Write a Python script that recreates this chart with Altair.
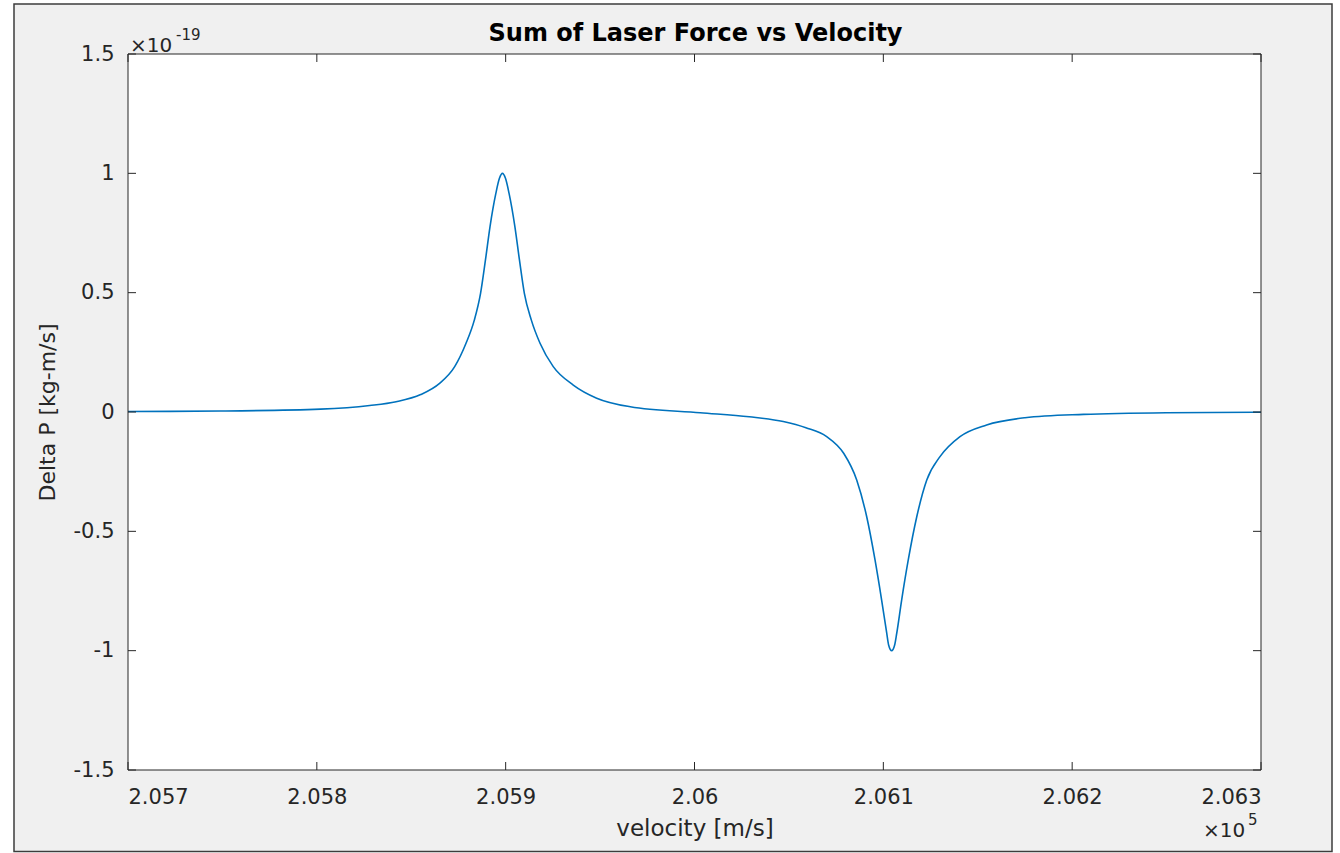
import altair as alt
import pandas as pd

# ---- data (velocity in m/s, Delta P in units of 1e-19 kg m/s)
velocity = [205700, 205749, 205802, 205828, 205842, 205855, 205865, 205873,
            205879, 205883.4, 205886.7, 205889.3, 205891.7, 205894.8, 205896.7, 205898.3,
            205899.9, 205901.8, 205904.9, 205907.3, 205909.9, 205913.6, 205918.2,
            205925.2, 205935.8, 205948.2, 205966, 206003, 206029, 206047, 206059,
            206070, 206079, 206085.9, 206091.2, 206095.6, 206099.1, 206101.8, 206102.8,
            206104.4, 206106.0, 206107.1, 206109.7, 206113.2, 206117.7, 206123,
            206130, 206140.6, 206154.7, 206175, 206206, 206250, 206300]
delta_p_e19 = [0.002, 0.004, 0.012, 0.027, 0.043, 0.073, 0.12, 0.19,
               0.288, 0.385, 0.497, 0.637, 0.776, 0.916, 0.979, 1.0,
               0.979, 0.916, 0.776, 0.637, 0.497, 0.385, 0.288,
               0.19, 0.113, 0.058, 0.022, -0.003, -0.02, -0.04, -0.066,
               -0.103, -0.173, -0.285, -0.439, -0.62, -0.788, -0.927, -0.976,
               -1.0, -0.976, -0.927, -0.788, -0.62, -0.439, -0.285,
               -0.187, -0.103, -0.054, -0.024, -0.01, -0.003, -0.001]

x_ticks = [205700, 205800, 205900, 206000, 206100, 206200, 206300]
y_ticks = [-1.5, -1, -0.5, 0, 0.5, 1, 1.5]

title_text = "Sum of Laser Force vs Velocity"
x_title = "velocity [m/s]"
y_title = "Delta P [kg-m/s]"

W, H = 1133, 716
PL, PT = 128, 54
FONT = "DejaVu Sans"
TXT = "#262626"
TICK = 8

df = pd.DataFrame({"velocity": velocity, "dp": delta_p_e19})
xt = pd.DataFrame({"velocity": x_ticks})
yt = pd.DataFrame({"dp": y_ticks})
one = pd.DataFrame({"k": [0]})

xscale = alt.Scale(domain=[205700, 206300], nice=False, zero=False)
yscale = alt.Scale(domain=[-1.5, 1.5], nice=False, zero=False)

x_axis = alt.Axis(values=x_ticks, labelExpr="format(datum.value/100000, '.3~f')",
                  title=x_title, titleX=W / 2, titleY=58, titleBaseline="middle",
                  titleFontSize=23, labelPadding=16, zindex=5)
y_axis = alt.Axis(values=y_ticks, labelExpr="toString(datum.value)",
                  title=y_title, titleX=47 - PL, titleY=412 - PT,
                  titleBaseline="middle", titleAngle=-90, labelPadding=14, zindex=5)
X = alt.X("velocity:Q", scale=xscale, axis=x_axis)
Y = alt.Y("dp:Q", scale=yscale, axis=y_axis)

# figure background (grey panel with dark frame)
fig_bg = alt.Chart(one).mark_rect(fill="#f0f0f0", stroke="#3c3c3c", strokeWidth=1.5).encode(
    x=alt.value(14 - PL), x2=alt.value(1332 - PL),
    y=alt.value(4 - PT), y2=alt.value(851.5 - PT))

plot_bg = alt.Chart(one).mark_rect(fill="white").encode(
    x=alt.value(0), x2=alt.value(W), y=alt.value(0), y2=alt.value(H))

line = alt.Chart(df).mark_line(color="#0072BD", strokeWidth=1.6, interpolate="monotone").encode(
    x=X, y=Y)

tick_style = dict(color=TXT, strokeWidth=1)
ticks = alt.layer(
    alt.Chart(xt).mark_rule(**tick_style).encode(x=X, y=alt.value(H), y2=alt.value(H - TICK)),
    alt.Chart(xt).mark_rule(**tick_style).encode(x=X, y=alt.value(0), y2=alt.value(TICK)),
    alt.Chart(yt).mark_rule(**tick_style).encode(y=Y, x=alt.value(0), x2=alt.value(TICK)),
    alt.Chart(yt).mark_rule(**tick_style).encode(y=Y, x=alt.value(W), x2=alt.value(W - TICK)),
)

box = alt.Chart(one).mark_rect(fill=None, stroke=TXT, strokeWidth=1).encode(
    x=alt.value(0), x2=alt.value(W), y=alt.value(0), y2=alt.value(H))

title = alt.Chart(one).mark_text(font=FONT, fontSize=24, fontWeight="bold", color="black",
                                 align="center", baseline="middle").encode(
    text=alt.value(title_text), x=alt.value(W / 2 + 1), y=alt.value(34 - PT))

ann_main = alt.Chart(one).mark_text(font=FONT, fontSize=20, color=TXT, align="left",
                                    baseline="middle").encode(text=alt.value("×10"))
ann_sup = alt.Chart(one).mark_text(font=FONT, fontSize=15, color=TXT, align="left",
                                   baseline="middle")
ann = alt.layer(
    ann_main.encode(x=alt.value(130 - PL), y=alt.value(46 - PT)),
    ann_sup.encode(text=alt.value("-19"), x=alt.value(176 - PL), y=alt.value(35 - PT)),
    ann_main.encode(x=alt.value(1203 - PL), y=alt.value(831 - PT)),
    ann_sup.encode(text=alt.value("5"), x=alt.value(1248 - PL), y=alt.value(820 - PT)),
)

chart = alt.layer(fig_bg, plot_bg, line, ticks, box, title, ann).properties(
    width=W, height=H,
    autosize=alt.AutoSizeParams(type="none"),
    padding={"left": PL, "top": PT, "right": 1340 - PL - W, "bottom": 853 - PT - H},
    background="white",
).configure_view(stroke=None).configure_axis(
    domain=False, grid=False, ticks=False, tickSize=0,
    labelFont=FONT, labelFontSize=21, labelColor=TXT,
    titleFont=FONT, titleFontSize=22, titleColor=TXT, titleFontWeight="normal",
)

chart.save("out.html", embed_options={"renderer": "svg", "actions": False})
